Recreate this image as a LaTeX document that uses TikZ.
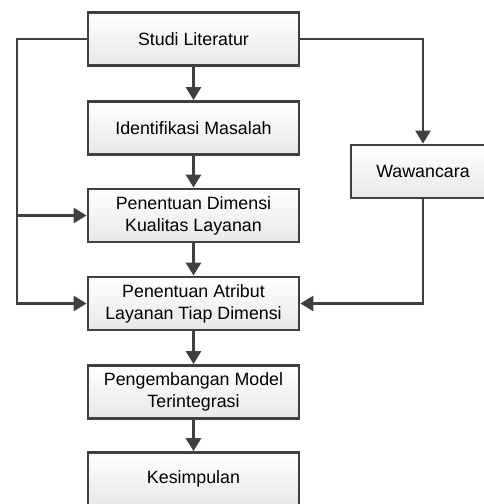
\documentclass[tikz,border=0pt]{standalone}
\usepackage{fontspec}
\setmainfont{Liberation Sans}
\usetikzlibrary{arrows.meta}
\definecolor{ln}{HTML}{404040}
\begin{document}
\begin{tikzpicture}[x=1pt,y=-1pt,
  box/.style={draw=ln, line width=2.8pt, top color=white, bottom color=black!9,
    minimum width=211pt, minimum height=53pt, inner sep=0pt, align=center,
    font=\fontsize{17.8}{22}\selectfont, text=black},
  conn/.style={draw=ln, line width=2.8pt, -{Triangle[length=13pt,width=15pt]}}]
\useasboundingbox (0,0) rectangle (484,504);
\clip (0,0) rectangle (484,504);
\node[box] (s) at (193.5,39) {Studi Literatur};
\node[box] (i) at (193.5,128) {Identifikasi Masalah};
\node[box] (d) at (193.5,215.5) {Penentuan Dimensi\\Kualitas Layanan};
\node[box] (a) at (193.5,303.5) {Penentuan Atribut\\Layanan Tiap Dimensi};
\node[box] (p) at (193.5,392) {Pengembangan Model\\Terintegrasi};
\node[box] (k) at (193.5,479) {Kesimpulan};
\node[box, minimum width=144pt] (w) at (423,171.5) {Wawancara};
\coordinate (l1) at (17,39);
\coordinate (l2) at (17,303.5);
\coordinate (l3) at (17,215.5);
\coordinate (r1) at (423,39);
\coordinate (r2) at (423,303.5);
\draw[conn] (s) -- (i);
\draw[conn] (i) -- (d);
\draw[conn] (d) -- (a);
\draw[conn] (a) -- (p);
\draw[conn] (p) -- (k);
\draw[conn] (s.west) -- (l1) -- (l2) -- (a.west);
\draw[conn] (l3) -- (d.west);
\draw[conn] (s.east) -- (r1) -- (w.north);
\draw[conn] (w.south) -- (r2) -- (a.east);
\end{tikzpicture}
\end{document}
